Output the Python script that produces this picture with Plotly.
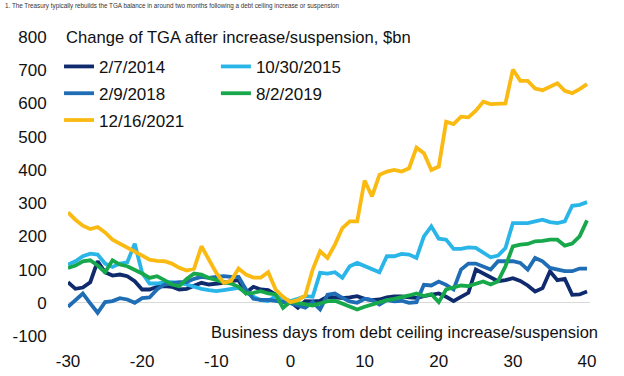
import plotly.graph_objects as go

days = list(range(-30, 41))

tga_2014 = [62, 42, 46, 62, 125, 92, 82, 85, 80, 65,
            40, 40, 48, 50, 48, 40, 42, 50, 60, 55,
            57, 60, 65, 68, 30, 48, 40, 38, 25, 2,
            3, -15, 5, 4, 6, 18, 16, 14, 16, 20,
            12, 8, 10, 16, 19, 19, 16, 15, 20, 25,
            28, 18, 5, 18, 30, 100, 88, 75, 65, 68,
            74, 66, 52, 34, 44, 95, 68, 72, 24, 25,
            34]

tga_2015 = [115, 125, 140, 148, 145, 118, 108, 118, 122, 178,
            90, 58, 58, 62, 62, 60, 55, 48, 42, 38,
            35, 38, 42, 45, 32, 18, 8, 5, 20, 12,
            5, 12, 20, 18, 90, 88, 92, 75, 110, 120,
            110, 100, 92, 140, 140, 147, 145, 135, 200, 230,
            193, 190, 162, 162, 167, 165, 150, 137, 142, 165,
            240, 240, 240, 245, 250, 243, 240, 245, 292, 295,
            303]

tga_2018 = [-12, 8, 28, -2, -30, 2, 5, 14, 10, 0,
            14, 16, 40, 55, 58, 62, 62, 72, 78, 75,
            78, 80, 78, 78, 40, 12, 9, 9, 6, 3,
            -1, -8, -15, 2, -20, 24, 28, 15, 4, 0,
            12, 8, -5, 8, 4, 6, 0, 2, 54, 52,
            64, 54, 40, 100, 118, 118, 108, 100, 125, 125,
            125, 120, 100, 135, 125, 105, 100, 95, 95, 103,
            103]

tga_2019 = [105, 112, 125, 128, 112, 92, 128, 115, 110, 100,
            88, 75, 80, 68, 55, 50, 72, 88, 85, 75,
            68, 62, 58, 48, 28, 30, 35, 28, 25, -15,
            3, -1, -5, -8, -2, 5, 6, -2, -12, -20,
            -12, -5, 3, 8, 12, 16, 22, 28, 20, 26,
            2, 40, 45, 52, 50, 58, 64, 55, 65, 110,
            170, 175, 177, 185, 186, 190, 190, 172, 178, 200,
            248]

tga_2021 = [272, 250, 232, 222, 228, 212, 190, 178, 168, 155,
            142, 130, 126, 125, 118, 105, 97, 103, 170, 130,
            90, 60, 66, 103, 85, 76, 76, 92, 40, 18,
            2, 8, 22, 100, 155, 135, 175, 225, 245, 245,
            368, 320, 385, 395, 400, 395, 405, 467, 450, 400,
            410, 545, 538, 560, 558, 578, 605, 598, 600, 600,
            702, 668, 668, 645, 640, 650, 661, 638, 631, 643,
            658]

series = [
    ("2/7/2014", tga_2014, "#0F2B6E", "legend"),
    ("10/30/2015", tga_2015, "#29B5E8", "legend2"),
    ("2/9/2018", tga_2018, "#1F6DB5", "legend"),
    ("8/2/2019", tga_2019, "#17A84B", "legend2"),
    ("12/16/2021", tga_2021, "#FBBA12", "legend"),
]

x_ticks = [-30, -20, -10, 0, 10, 20, 30, 40]
x_tick_labels = ["-30", "-20", "-10", "0", "10", "20", "30", "40"]
y_ticks = [-100, 0, 100, 200, 300, 400, 500, 600, 700, 800]
y_tick_labels = ["-100", "0", "100", "200", "300", "400", "500", "600", "700", "800"]

FONT = "Liberation Sans, Arial, sans-serif"

fig = go.Figure()
for name, vals, color, lg in series:
    fig.add_trace(go.Scatter(
        x=days, y=vals, name=name, mode="lines",
        line=dict(color=color, width=3.8),
        legend=lg, legendgroup=name,
    ))

fig.update_layout(
    width=624, height=376,
    margin=dict(l=68, r=34, t=37, b=40, autoexpand=False),
    paper_bgcolor="white", plot_bgcolor="white",
    font=dict(family=FONT, size=17, color="#111111"),
    legend=dict(xref="container", yref="container", x=0.0946, y=0.870,
                xanchor="left", yanchor="top",
                bgcolor="rgba(0,0,0,0)", font=dict(size=17),
                orientation="v", tracegroupgap=1.7),
    legend2=dict(xref="container", yref="container", x=0.346, y=0.870,
                 xanchor="left", yanchor="top",
                 bgcolor="rgba(0,0,0,0)", font=dict(size=17),
                 orientation="v", tracegroupgap=1.7),
    xaxis=dict(range=[-30, 40.4], tickvals=x_ticks, ticktext=x_tick_labels,
               showgrid=False, zeroline=False, showline=False,
               ticks="outside", ticklen=10, tickcolor="white", automargin=False),
    yaxis=dict(range=[-100, 800], tickvals=y_ticks, ticktext=y_tick_labels,
               showgrid=False, zeroline=True, zerolinecolor="#D9D9D9",
               zerolinewidth=1, showline=False, ticks="outside", ticklen=17,
               tickcolor="white", automargin=False),
    annotations=[
        dict(text="1. The Treasury typically rebuilds the TGA balance in around two months following a debt ceiling increase or suspension",
             xref="paper", yref="paper", x=-0.1245, y=1.1037,
             xanchor="left", yanchor="middle", showarrow=False,
             font=dict(size=6.3, color="#333333")),
        dict(text="Change of TGA after increase/suspension, $bn",
             xref="paper", yref="paper", x=-0.008, y=1.0,
             xanchor="left", yanchor="middle", showarrow=False,
             font=dict(size=16.6)),
        dict(text="Business days from debt ceiling increase/suspension",
             xref="paper", yref="y", x=1.02, y=-87,
             xanchor="right", yanchor="middle", showarrow=False,
             font=dict(size=16.5)),
    ],
)

fig.write_html("out.html",
               config={"displayModeBar": False},
               post_script="document.body.style.margin='0';document.body.style.overflow='hidden';")
